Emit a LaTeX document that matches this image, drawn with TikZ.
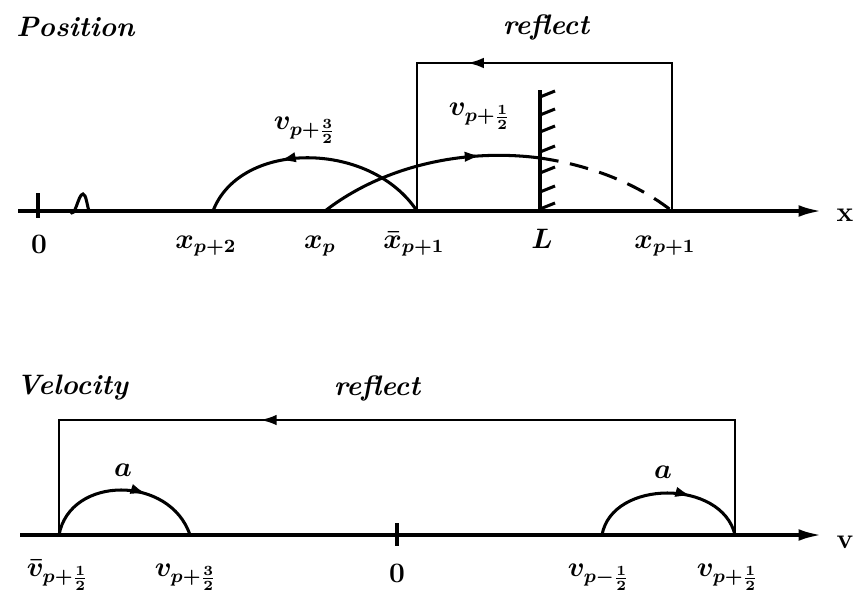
\documentclass[tikz,border=0pt]{standalone}
\usetikzlibrary{arrows.meta,decorations.markings}
\begin{document}
\begin{tikzpicture}[
        x=0.015cm, y=0.015cm,
        font=\large\boldmath,
        axis/.style={
            -{Latex[length=10pt,width=5pt]},
            line width=1.6pt
        },
        track/.style={
            line width=1.3pt
        },
        frame/.style={
            line width=1.1pt
        },
        midarrow/.style={
            postaction={decorate, decoration={markings,
                mark=at position #1 with {\arrow{Latex[length=7pt,width=4.5pt]}}}}
        },
        title/.style={
            font=\large\bfseries\itshape
        },
        lab/.style={
            anchor=base
        }
    ]

    \useasboundingbox (0,0) rectangle (854,598);

    % position axis
    \coordinate (xs) at (18,387);
    \coordinate (xe) at (822,387);
    \coordinate (xzero) at (38,387);
    \coordinate (xp2) at (213,387);
    \coordinate (xp) at (325,387);
    \coordinate (xbar) at (417,387);
    \coordinate (wall) at (540,387);
    \coordinate (walltop) at (540,508);
    \coordinate (hit) at (540,440);
    \coordinate (xp1) at (672,387);

    \node[title, anchor=west] (postitle) at (8,571) {Position};
    \node[title] (refltop) at (546,571) {reflect};

    \draw[axis] (xs) -- (xe);
    \node[font=\large\bfseries] (xlab) at (845,383) {x};
    \draw[line width=1.5pt] (38,405) -- (38,380);
    \draw[line width=1.3pt] (70,387) .. controls (75,378) and (78,404) .. (83,404)
        .. controls (86,404) and (87,393) .. (89,387);

    \node[lab] (lzero) at (39,345) {$\mathbf{0}$};
    \node[lab] (lxp2) at (206,350) {$x_{p+2}$};
    \node[lab] (lxp) at (320,350) {$x_p$};
    \node[lab] (lxbar) at (414,350) {$\bar{x}_{p+1}$};
    \node[lab] (lL) at (542,350) {$L$};
    \node[lab] (lxp1) at (665,350) {$x_{p+1}$};

    \draw[frame, midarrow=0.64] (xp1) -- (672,535) -- (417,535) -- (xbar);

    \draw[line width=1.5pt] (wall) -- (walltop);
    \foreach \h in {389,406,425,446,466,483,501}
        \draw[line width=1.3pt] (540,\h) -- (555,\h+6);

    \draw[track, midarrow=0.64] (xbar) .. controls (370,458) and (240,458) .. (xp2);
    \node (lv32) at (305,468) {$v_{p+\frac{3}{2}}$};

    \draw[track, midarrow=0.74] (xp) .. controls (383,432) and (464,450) .. (hit);
    \draw[track, dashed, dash pattern=on 8pt off 5pt] (hit) .. controls (588,433) and (635,416) .. (xp1);
    \node (lv12) at (480,482) {$v_{p+\frac{1}{2}}$};

    % velocity axis
    \coordinate (vs) at (20,63);
    \coordinate (ve) at (822,63);
    \coordinate (vbar) at (59,63);
    \coordinate (vp32) at (190,63);
    \coordinate (vzero) at (397,63);
    \coordinate (vm12) at (602,63);
    \coordinate (vp12) at (735,63);

    \node[title, anchor=west] (veltitle) at (8,210) {Velocity};
    \node[title] (reflbot) at (377,210) {reflect};

    \draw[axis] (vs) -- (ve);
    \node[font=\large\bfseries] (vlab) at (845,56) {v};
    \draw[line width=1.5pt] (397,75) -- (397,52);

    \draw[frame, midarrow=0.651] (vp12) -- (735,178) -- (59,178) -- (vbar);

    \draw[track, midarrow=0.64] (vbar) .. controls (70,123) and (170,123) .. (vp32);
    \node (la1) at (123,128) {$a$};
    \draw[track, midarrow=0.64] (vm12) .. controls (612,119) and (722,119) .. (vp12);
    \node (la2) at (663,126) {$a$};

    \node[lab] (lvbar) at (58,22) {$\bar{v}_{p+\frac{1}{2}}$};
    \node[lab] (lvp32) at (186,22) {$v_{p+\frac{3}{2}}$};
    \node[lab] (lvzero) at (397,16) {$\mathbf{0}$};
    \node[lab] (lvm12) at (599,22) {$v_{p-\frac{1}{2}}$};
    \node[lab] (lvp12) at (728,22) {$v_{p+\frac{1}{2}}$};

\end{tikzpicture}
\end{document}
